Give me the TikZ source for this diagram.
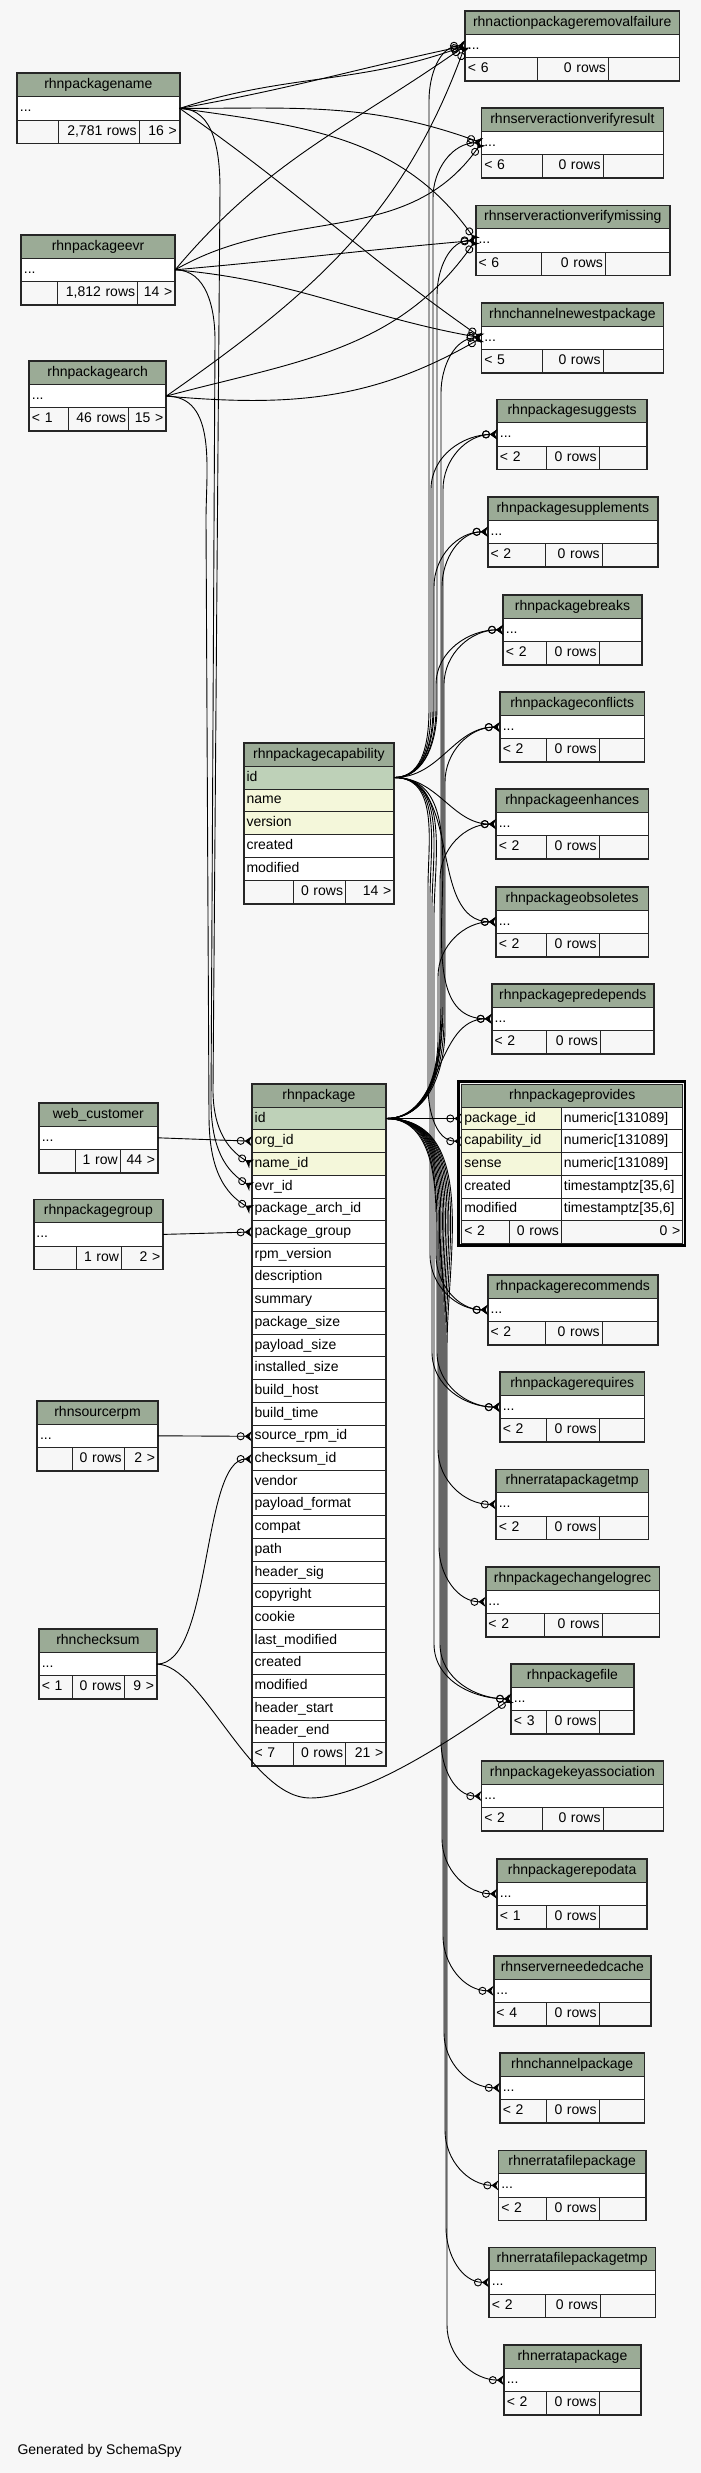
\documentclass[tikz,border=0pt]{standalone}
\usepackage{fontspec}
\setmainfont{Liberation Sans}
\usetikzlibrary{arrows.meta,calc}

\definecolor{hdrgreen}{HTML}{9BAB96}
\definecolor{keygreen}{HTML}{BED1B8}
\definecolor{idxyellow}{HTML}{F4F7DA}
\definecolor{bggrey}{HTML}{F7F7F7}

% one table cell: name, style, x, y (downwards), width, height, text
\newcommand{\tcell}[7]{%
  \pgfmathsetmacro\cellw{#5-5}%
  \node[#2, text width=\cellw pt, minimum height=#6pt] (#1) at (#3,{-(#4)}) {#7};}

% collapsed table: id, title, left, top, right, split1, split2
\newcommand{\minitable}[7]{%
  \xdef\tbx{#3}\xdef\tby{#4}\xdef\tbX{#5}\xdef\tbs{#6}\xdef\tbS{#7}%
  \tcell{#1-h}{hdr}{#3}{#4}{#5-#3}{23.1}{#2}%
  \tcell{#1-r}{plaincol}{#3}{#4+23.1}{#5-#3}{23.1}{...}}
\newcommand{\minifoot}[4]{%
  \tcell{#1-f1}{footl}{\tbx}{\tby+46.2}{\tbs-\tbx}{23.1}{#2}%
  \tcell{#1-f2}{footr}{\tbs}{\tby+46.2}{\tbS-\tbs}{23.1}{#3}%
  \tcell{#1-f3}{footr}{\tbS}{\tby+46.2}{\tbX-\tbS}{23.1}{#4}%
  \draw[tblframe] (#1-h.north west) rectangle (#1-f3.south east);}

% foreign keys running along a vertical bus: source, target, bus x, source bend
\newcommand{\fkup}[4]{%
  \draw[fk] (#1) to[out=0,in=-90] ($(#1 -| #3,0)+(0,#4)$) -- ($(#2 -| #3,0)+(0,-55)$) to[out=90,in=180] (#2);}
\newcommand{\fkdown}[4]{%
  \draw[fk] (#1) to[out=0,in=90] ($(#1 -| #3,0)+(0,-#4)$) -- ($(#2 -| #3,0)+(0,55)$) to[out=-90,in=180] (#2);}

\begin{document}
\begin{tikzpicture}[x=1pt,y=1pt,
  cellbase/.style={draw=black!85,line width=0.9pt,anchor=north west,inner xsep=2.5pt,inner ysep=0pt,
    text height=10pt,text depth=3pt,font=\fontsize{14}{16}\selectfont},
  hdr/.style={cellbase,fill=hdrgreen,align=center},
  keycol/.style={cellbase,fill=keygreen,align=left},
  plaincol/.style={cellbase,fill=white,align=left},
  footl/.style={cellbase,fill=bggrey,align=left},
  footr/.style={cellbase,fill=bggrey,align=right},
  tblframe/.style={draw=black!85,line width=1.6pt},
  fk/.style={line width=0.9pt,-{Circle[open,length=8pt,width=8pt] Stealth[reversed,length=7pt,width=10pt]}}]

\fill[bggrey] (0,0) rectangle (701,-2473);
\useasboundingbox (0,0) rectangle (701,-2473);

% parents on the left
\minitable{pname}{rhnpackagename}{17}{73.3}{178.8}{58.1}{138.6}
\minifoot{pname}{}{2,781 rows}{16 >}
\minitable{pevr}{rhnpackageevr}{21}{234.7}{174.3}{57.2}{137.2}
\minifoot{pevr}{}{1,812 rows}{14 >}
\minitable{parch}{rhnpackagearch}{29}{361}{165.4}{68}{128.3}
\minifoot{parch}{< 1}{46 rows}{15 >}
\minitable{webcust}{web\_customer}{38.9}{1102.7}{157}{75.1}{119.8}
\minifoot{webcust}{}{1 row}{44 >}
\minitable{pgroup}{rhnpackagegroup}{33.5}{1199.3}{162.3}{76}{121.1}
\minifoot{pgroup}{}{1 row}{2 >}
\minitable{srpm}{rhnsourcerpm}{37.1}{1400.7}{157}{72}{123.8}
\minifoot{srpm}{}{0 rows}{2 >}
\minitable{checksum}{rhnchecksum}{38.9}{1629}{156}{72}{123.8}
\minifoot{checksum}{< 1}{0 rows}{9 >}

% rhnpackagecapability
\tcell{pcap-h}{hdr}{243.6}{742.7}{149.8}{22.9}{rhnpackagecapability}
\tcell{pcap-id}{keycol}{243.6}{765.6}{149.8}{22.9}{id}
\foreach \col/\fc [count=\i] in {name/idxyellow,version/idxyellow,created/white,modified/white}
  \tcell{pcap-c\i}{plaincol,fill=\fc}{243.6}{765.6+22.9*\i}{149.8}{22.9}{\col};
\tcell{pcap-f1}{footl}{243.6}{880.1}{49.2}{22.9}{}
\tcell{pcap-f2}{footr}{292.8}{880.1}{52.3}{22.9}{0 rows}
\tcell{pcap-f3}{footr}{345.1}{880.1}{48.3}{22.9}{14 >}
\draw[tblframe] (pcap-h.north west) rectangle (pcap-f3.south east);

% rhnpackage
\tcell{pkg-h}{hdr}{251.7}{1084}{133.6}{22.7}{rhnpackage}
\tcell{pkg-id}{keycol}{251.7}{1106.7}{133.6}{22.7}{id}
\foreach \col/\fc [count=\i] in {org\_id/idxyellow,name\_id/idxyellow,evr\_id/white,
    package\_arch\_id/white,package\_group/white,rpm\_version/white,description/white,
    summary/white,package\_size/white,payload\_size/white,installed\_size/white,
    build\_host/white,build\_time/white,source\_rpm\_id/white,checksum\_id/white,
    vendor/white,payload\_format/white,compat/white,path/white,header\_sig/white,
    copyright/white,cookie/white,last\_modified/white,created/white,modified/white,
    header\_start/white,header\_end/white}
  \tcell{pkg-c\i}{plaincol,fill=\fc}{251.7}{1106.7+22.7*\i}{133.6}{22.7}{\col};
\tcell{pkg-f1}{footl}{251.7}{1742.3}{41.1}{22.7}{< 7}
\tcell{pkg-f2}{footr}{292.8}{1742.3}{52.3}{22.7}{0 rows}
\tcell{pkg-f3}{footr}{345.1}{1742.3}{40.2}{22.7}{21 >}
\draw[tblframe] (pkg-h.north west) rectangle (pkg-f3.south east);

% rhnpackageprovides
\tcell{prov-h}{hdr}{461.3}{1084}{221}{22.7}{rhnpackageprovides}
\foreach \col/\typ/\fc [count=\i] in {package\_id/numeric[131089]/idxyellow,
    capability\_id/numeric[131089]/idxyellow,sense/numeric[131089]/idxyellow,
    created/{timestamptz[35,6]}/white,modified/{timestamptz[35,6]}/white}{
  \tcell{prov-n\i}{plaincol,fill=\fc}{461.3}{1084+22.7*\i}{99.7}{22.7}{\col}
  \tcell{prov-t\i}{plaincol}{561}{1084+22.7*\i}{121.3}{22.7}{\typ}
}
\tcell{prov-f1}{footl}{461.3}{1220.2}{47.7}{22.7}{< 2}
\tcell{prov-f2}{footr}{509}{1220.2}{52}{22.7}{0 rows}
\tcell{prov-f3}{footr}{561}{1220.2}{121.3}{22.7}{0 >}
\draw[line width=2.4pt] (458.6,-1081.3) rectangle (684.7,-1245.6);

% children on the right
\minitable{rmfail}{rhnactionpackageremovalfailure}{465}{10.7}{678.6}{536.5}{608}
\minifoot{rmfail}{< 6}{0 rows}{}
\minitable{vresult}{rhnserveractionverifyresult}{481.4}{107.7}{662.5}{542.3}{602.6}
\minifoot{vresult}{< 6}{0 rows}{}
\minitable{vmissing}{rhnserveractionverifymissing}{475.6}{205.3}{669.2}{541}{605}
\minifoot{vmissing}{< 6}{0 rows}{}
\minitable{newest}{rhnchannelnewestpackage}{481.4}{302.7}{662.5}{542.3}{602.6}
\minifoot{newest}{< 5}{0 rows}{}
\minitable{suggests}{rhnpackagesuggests}{497}{399.3}{646.4}{546.3}{598.6}
\minifoot{suggests}{< 2}{0 rows}{}
\minitable{supplements}{rhnpackagesupplements}{487.7}{496.7}{657.1}{545}{601.7}
\minifoot{supplements}{< 2}{0 rows}{}
\minitable{breaks}{rhnpackagebreaks}{503}{594.7}{641}{546.3}{598.6}
\minifoot{breaks}{< 2}{0 rows}{}
\minitable{conflicts}{rhnpackageconflicts}{499.8}{692}{643.7}{546.3}{598.6}
\minifoot{conflicts}{< 2}{0 rows}{}
\minitable{enhances}{rhnpackageenhances}{495.8}{789}{647.7}{546.3}{598.6}
\minifoot{enhances}{< 2}{0 rows}{}
\minitable{obsoletes}{rhnpackageobsoletes}{495.8}{886.7}{647.7}{546.3}{598.6}
\minifoot{obsoletes}{< 2}{0 rows}{}
\minitable{predepends}{rhnpackagepredepends}{491.7}{983.7}{653}{546.3}{600}
\minifoot{predepends}{< 2}{0 rows}{}
\minitable{recommends}{rhnpackagerecommends}{487.7}{1274.7}{657.1}{545}{601.7}
\minifoot{recommends}{< 2}{0 rows}{}
\minitable{requires}{rhnpackagerequires}{499.8}{1372}{643.7}{546.3}{598.6}
\minifoot{requires}{< 2}{0 rows}{}
\minitable{errtmp}{rhnerratapackagetmp}{495.8}{1469.3}{647.7}{546.3}{598.6}
\minifoot{errtmp}{< 2}{0 rows}{}
\minitable{changelog}{rhnpackagechangelogrec}{485.5}{1566.7}{658.5}{544}{601.7}
\minifoot{changelog}{< 2}{0 rows}{}
\minitable{pfile}{rhnpackagefile}{511}{1663.7}{633}{546.3}{598.6}
\minifoot{pfile}{< 3}{0 rows}{}
\minitable{keyassoc}{rhnpackagekeyassociation}{481.4}{1761}{662.5}{542.3}{602.6}
\minifoot{keyassoc}{< 2}{0 rows}{}
\minitable{repodata}{rhnpackagerepodata}{497}{1858.7}{646.4}{546.3}{598.6}
\minifoot{repodata}{< 1}{0 rows}{}
\minitable{needcache}{rhnserverneededcache}{493.5}{1955.7}{650.4}{546.3}{598.6}
\minifoot{needcache}{< 4}{0 rows}{}
\minitable{chanpkg}{rhnchannelpackage}{499.8}{2052.7}{643.7}{546.3}{598.6}
\minifoot{chanpkg}{< 2}{0 rows}{}
\minitable{errfile}{rhnerratafilepackage}{498.4}{2150.3}{645}{546.3}{598.6}
\minifoot{errfile}{< 2}{0 rows}{}
\minitable{errfiletmp}{rhnerratafilepackagetmp}{489}{2247.3}{654.5}{545}{600}
\minifoot{errfiletmp}{< 2}{0 rows}{}
\minitable{errpkg}{rhnerratapackage}{503.8}{2345}{640.2}{546.3}{598.6}
\minifoot{errpkg}{< 2}{0 rows}{}

\node[anchor=west,font=\fontsize{14}{16}\selectfont] (credit) at (14,-2451) {Generated by SchemaSpy};

% name / evr / arch
\draw[fk] (pname-r.east) to[out=10,in=192] (rmfail-r.west);
\draw[fk] (pname-r.east) to[out=18,in=200] (rmfail-r.west);
\draw[fk] (pname-r.east) to[out=0,in=160] (vresult-r.west);
\draw[fk] (pname-r.east) to[out=-8,in=125] (vmissing-r.west);
\draw[fk] (pname-r.east) to[out=-35,in=145] (newest-r.west);
\draw[fk] (pevr-r.east) to[out=50,in=215] (rmfail-r.west);
\draw[fk] (pevr-r.east) to[out=30,in=235] (vresult-r.west);
\draw[fk] (pevr-r.east) to[out=5,in=185] (vmissing-r.west);
\draw[fk] (pevr-r.east) to[out=-5,in=170] (newest-r.west);
\draw[fk] (parch-r.east) to[out=35,in=250] (rmfail-r.west);
\draw[fk] (parch-r.east) to[out=15,in=235] (vmissing-r.west);
\draw[fk] (parch-r.east) to[out=-5,in=210] (newest-r.west);
\draw[fk] (pname-r.east) to[out=0,in=90] (220,-190) -- (213,-1090) to[out=-90,in=150] (pkg-c2.west);
\draw[fk] (pevr-r.east) to[out=0,in=90] (215,-340) -- (211,-1100) to[out=-90,in=150] (pkg-c3.west);
\draw[fk] (parch-r.east) to[out=0,in=90] (206,-520) -- (209,-1115) to[out=-90,in=150] (pkg-c4.west);

% other parents of rhnpackage
\draw[fk] (webcust-r.east) -- (pkg-c1.west);
\draw[fk] (pgroup-r.east) -- (pkg-c5.west);
\draw[fk] (srpm-r.east) -- (pkg-c14.west);
\draw[fk] (checksum-r.east) .. controls +(55,0) and +(-50,0) .. (pkg-c15.west);
\draw[fk] (checksum-r.east) .. controls +(45,0) and +(-60,0) .. (310,-1798)
  .. controls +(60,0) and +(-45,-30) .. (pfile-r.west);

% capability
\fkup{pcap-id.east}{rmfail-r.west}{429}{70}
\fkup{pcap-id.east}{vresult-r.west}{433}{70}
\fkup{pcap-id.east}{vmissing-r.west}{437}{70}
\fkup{pcap-id.east}{suggests-r.west}{431}{70}
\fkup{pcap-id.east}{supplements-r.west}{434}{70}
\fkup{pcap-id.east}{breaks-r.west}{436}{70}
\draw[fk] (pcap-id.east) to[out=0,in=180] (conflicts-r.west);
\draw[fk] (pcap-id.east) to[out=0,in=180] (enhances-r.west);
\draw[fk] (pcap-id.east) to[out=0,in=180] (obsoletes-r.west);
\draw[fk] (pcap-id.east) to[out=0,in=180] (predepends-r.west);
\fkdown{pcap-id.east}{prov-n2.west}{428}{110}
\fkdown{pcap-id.east}{recommends-r.west}{430}{120}
\fkdown{pcap-id.east}{requires-r.west}{432}{130}
\fkdown{pcap-id.east}{pfile-r.west}{434}{140}

% package
\fkup{pkg-id.east}{newest-r.west}{441}{120}
\fkup{pkg-id.east}{suggests-r.west}{443}{120}
\fkup{pkg-id.east}{supplements-r.west}{442}{110}
\fkup{pkg-id.east}{breaks-r.west}{444}{100}
\fkup{pkg-id.east}{conflicts-r.west}{445}{90}
\fkup{pkg-id.east}{enhances-r.west}{440}{90}
\fkup{pkg-id.east}{obsoletes-r.west}{438}{80}
\draw[fk] (pkg-id.east) to[out=0,in=180] (predepends-r.west);
\draw[fk] (pkg-id.east) -- (prov-n1.west);
\fkdown{pkg-id.east}{recommends-r.west}{436}{100}
\fkdown{pkg-id.east}{requires-r.west}{437}{120}
\fkdown{pkg-id.east}{errtmp-r.west}{438}{140}
\fkdown{pkg-id.east}{changelog-r.west}{439}{150}
\fkdown{pkg-id.east}{pfile-r.west}{440}{160}
\fkdown{pkg-id.east}{keyassoc-r.west}{441}{170}
\fkdown{pkg-id.east}{repodata-r.west}{442}{180}
\fkdown{pkg-id.east}{needcache-r.west}{443}{190}
\fkdown{pkg-id.east}{chanpkg-r.west}{444}{200}
\fkdown{pkg-id.east}{errfile-r.west}{445}{210}
\fkdown{pkg-id.east}{errfiletmp-r.west}{446}{220}
\fkdown{pkg-id.east}{errpkg-r.west}{447}{230}
\end{tikzpicture}
\end{document}
